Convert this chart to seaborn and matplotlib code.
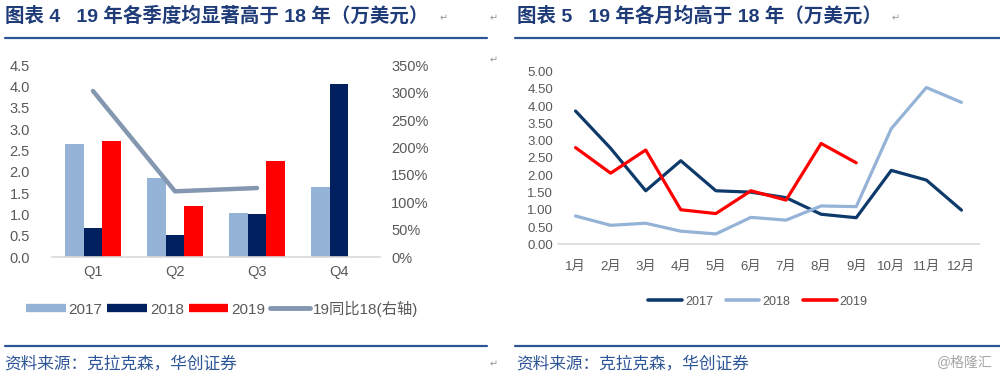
import numpy as np
import pandas as pd
import matplotlib
matplotlib.use("Agg")
import matplotlib.pyplot as plt
import seaborn as sns
from matplotlib.lines import Line2D

# ---- data ----
quarters = ['Q1', 'Q2', 'Q3', 'Q4']
q_2017 = [2.66, 1.85, 1.03, 1.64]
q_2018 = [0.69, 0.53, 1.01, 4.07]
q_2019 = [2.72, 1.19, 2.25, np.nan]
yoy_19_18 = [3.03, 1.20, 1.26]   # right axis, ratio

months = ['1月', '2月', '3月', '4月', '5月', '6月', '7月', '8月', '9月', '10月', '11月', '12月']
m_2017 = [3.86, 2.78, 1.55, 2.42, 1.55, 1.51, 1.35, 0.87, 0.77, 2.14, 1.86, 0.99]
m_2018 = [0.82, 0.55, 0.61, 0.38, 0.30, 0.78, 0.70, 1.11, 1.09, 3.35, 4.54, 4.11]
m_2019 = [2.80, 2.06, 2.73, 1.00, 0.89, 1.55, 1.28, 2.92, 2.36]

years = ['2017', '2018', '2019']

sns.set_style('white')
plt.rcParams['font.family'] = ['Liberation Sans', 'Noto Sans CJK SC', 'DejaVu Sans']

TICK = '#595959'
NAVY_T = '#1F3C78'
RULE = '#2E5597'

fig = plt.figure(figsize=(10, 3.77), dpi=100)

# ---- left: quarterly bars ----
bar_df = pd.DataFrame({
    'quarter': quarters * 3,
    'year': sum([[y] * 4 for y in years], []),
    'value': q_2017 + q_2018 + q_2019,
})
bar_colors = {'2017': '#95B3D7', '2018': '#002060', '2019': '#FF0000'}

ax1 = fig.add_axes([0.052, 0.318, 0.328, 0.509])
sns.barplot(data=bar_df, x='quarter', y='value', hue='year', order=quarters,
            hue_order=years, palette=bar_colors, width=0.69, gap=0,
            saturation=1, linewidth=0, edgecolor='none', ax=ax1, legend=False)
ax1.set_xlim(-0.5, 3.5)
ax1.set_ylim(0, 4.5)
ax1.set_yticks(np.arange(0, 4.51, 0.5))
ax1.set_yticklabels([f'{v:.1f}' for v in np.arange(0, 4.51, 0.5)])
ax1.set_xlabel('')
ax1.set_ylabel('')
ax1.tick_params(axis='both', colors=TICK, labelsize=10.5, length=0)
ax1.tick_params(axis='x', pad=6)
ax1.tick_params(axis='y', pad=16)
for s in ['top', 'right', 'left']:
    ax1.spines[s].set_visible(False)
ax1.spines['bottom'].set_color('#D9D9D9')
ax1.spines['bottom'].set_linewidth(1.2)

ax1r = ax1.twinx()
line_df = pd.DataFrame({'pos': np.arange(len(yoy_19_18)), 'ratio': yoy_19_18})
sns.lineplot(data=line_df, x='pos', y='ratio', color='#8497B0', linewidth=3.2,
             ax=ax1r, solid_capstyle='round')
ax1r.set_ylim(0, 3.5)
ax1r.set_yticks(np.arange(0, 3.51, 0.5))
ax1r.set_yticklabels([f'{int(round(v * 100))}%' for v in np.arange(0, 3.51, 0.5)])
ax1r.set_ylabel('')
ax1r.set_xlabel('')
ax1r.tick_params(axis='y', colors=TICK, labelsize=10.5, length=0, pad=8)
for s in ax1r.spines.values():
    s.set_visible(False)
ax1.set_xlim(-0.5, 3.5)

left_handles = [Line2D([], [], color=bar_colors[y], linewidth=6, solid_capstyle='butt') for y in years]
left_handles.append(Line2D([], [], color='#8497B0', linewidth=3.5, solid_capstyle='round'))
fig.legend(left_handles, years + ['19同比18(右轴)'], loc='center', bbox_to_anchor=(0.222, 0.181),
           ncol=4, frameon=False, fontsize=11, handlelength=2.6, handletextpad=0.2,
           columnspacing=0.3, labelcolor=TICK)

# ---- right: monthly lines ----
line_long = pd.DataFrame({
    'pos': list(range(12)) * 2 + list(range(len(m_2019))),
    'year': ['2017'] * 12 + ['2018'] * 12 + ['2019'] * len(m_2019),
    'value': m_2017 + m_2018 + m_2019,
})
line_colors = {'2017': '#0E3A6B', '2018': '#95B3D7', '2019': '#FF0000'}

ax2 = fig.add_axes([0.558, 0.352, 0.421, 0.458])
sns.lineplot(data=line_long, x='pos', y='value', hue='year', hue_order=years,
             palette=line_colors, linewidth=2.3, ax=ax2, legend=False)
ax2.set_xlim(-0.5, 11.5)
ax2.set_ylim(0, 5)
ax2.set_yticks(np.arange(0, 5.01, 0.5))
ax2.set_yticklabels([f'{v:.2f}' for v in np.arange(0, 5.01, 0.5)])
ax2.set_xticks(range(12))
ax2.set_xticklabels(months)
ax2.set_xlabel('')
ax2.set_ylabel('')
ax2.tick_params(axis='both', colors=TICK, labelsize=9.5, length=0)
ax2.tick_params(axis='x', pad=12)
for s in ['top', 'right', 'left']:
    ax2.spines[s].set_visible(False)
ax2.spines['bottom'].set_color('#D9D9D9')
ax2.spines['bottom'].set_linewidth(1.2)

right_handles = [Line2D([], [], color=line_colors[y], linewidth=2.6) for y in years]
fig.legend(right_handles, years, loc='center', bbox_to_anchor=(0.758, 0.2),
           ncol=3, frameon=False, fontsize=9, handlelength=2.7, handletextpad=0.25,
           columnspacing=1.0, labelcolor=TICK)

# ---- titles, rules, footers ----
fig.text(0.005, 0.957, '图表 4   19 年各季度均显著高于 18 年（万美元）', fontsize=14,
         fontweight='bold', color=NAVY_T, va='center', ha='left')
fig.text(0.517, 0.957, '图表 5   19 年各月均高于 18 年（万美元）', fontsize=14,
         fontweight='bold', color=NAVY_T, va='center', ha='left')
arrow_kw = dict(fontsize=7, color='#999999', va='center', family=['DejaVu Sans'])
fig.text(0.440, 0.952, '↵', **arrow_kw)
fig.text(0.892, 0.952, '↵', **arrow_kw)
fig.text(0.490, 0.952, '↵', **arrow_kw)
fig.text(0.490, 0.84, '↵', **arrow_kw)
fig.text(0.490, 0.033, '↵', **arrow_kw)

for x0, x1 in ((0.005, 0.487), (0.515, 1.0)):
    fig.add_artist(Line2D([x0, x1], [0.899, 0.899], color=RULE, linewidth=1.6))
    fig.add_artist(Line2D([x0, x1], [0.083, 0.083], color=RULE, linewidth=1.6))

foot = '资料来源：克拉克森，华创证券'
fig.text(0.004, 0.037, foot, fontsize=12, color='#2E5597', style='italic', va='center')
fig.text(0.516, 0.037, foot, fontsize=12, color='#2E5597', style='italic', va='center')
fig.text(0.993, 0.037, '@格隆汇', fontsize=10, color='#A6A6A6', va='center', ha='right')

fig.savefig('out.png', dpi=100)
